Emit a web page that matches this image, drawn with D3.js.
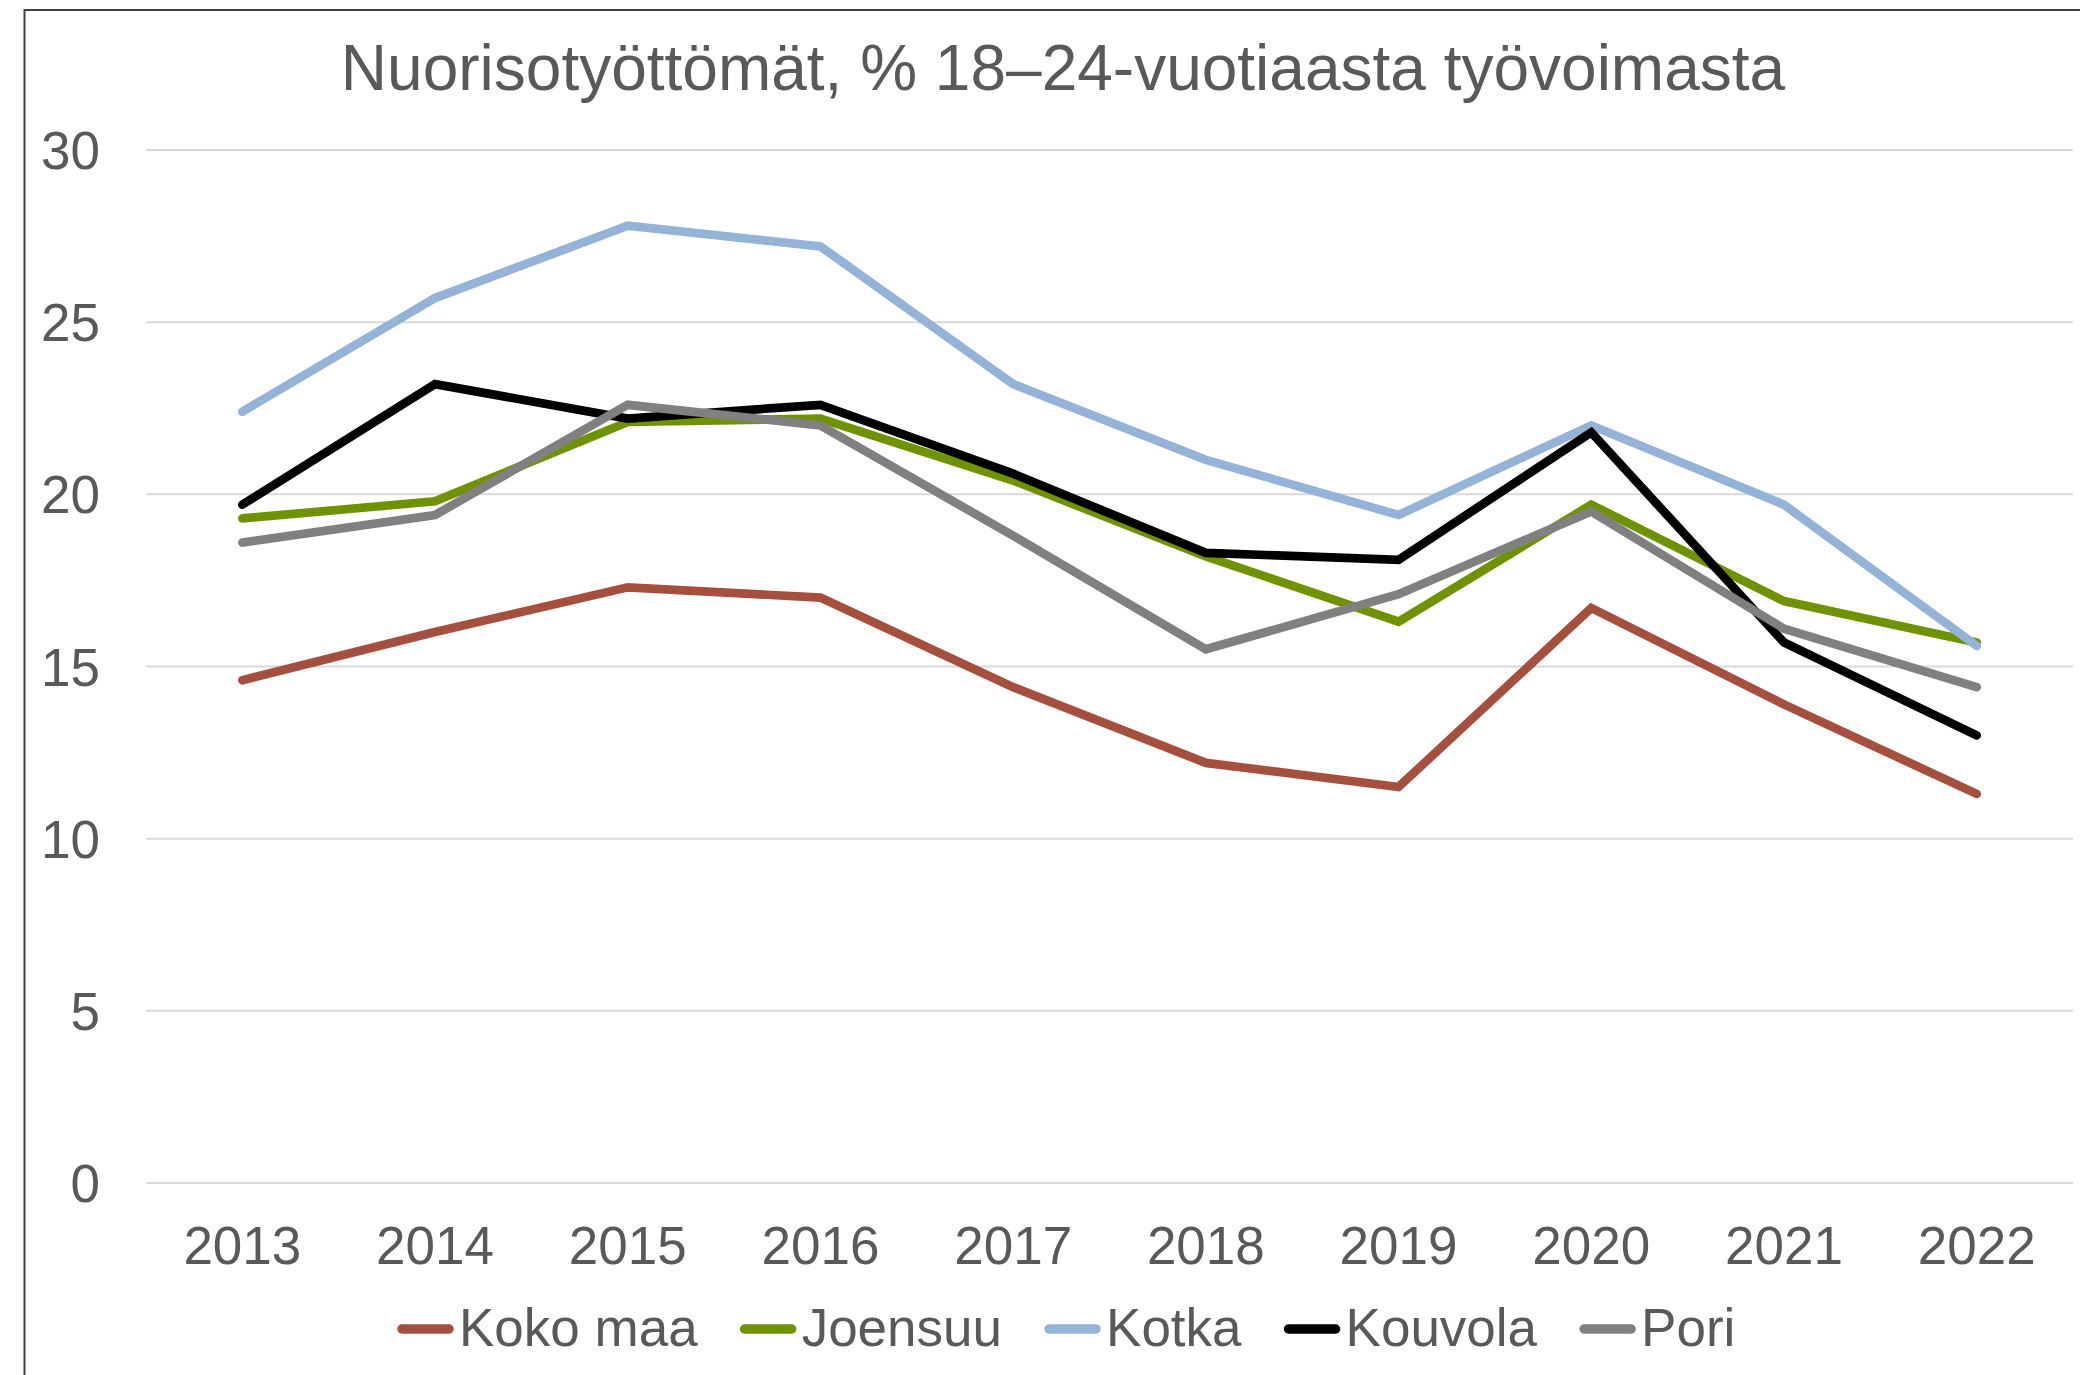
<!DOCTYPE html>
<html>
<head>
<meta charset="utf-8">
<script src="https://cdn.jsdelivr.net/npm/d3@7"></script>
<style>
  html, body { margin: 0; padding: 0; background: #fff; }
  svg { display: block; font-family: "Liberation Sans", Arial, sans-serif; }
</style>
</head>
<body>
<svg id="chart" width="2080" height="1375"></svg>
<script>
// chart data
var years = ["2013", "2014", "2015", "2016", "2017", "2018", "2019", "2020", "2021", "2022"];
var seriesNames = ["Koko maa", "Joensuu", "Kotka", "Kouvola", "Pori"];
var kokoMaa = [14.6, 16.0, 17.3, 17.0, 14.4, 12.2, 11.5, 16.7, 13.9, 11.3];
var joensuu = [19.3, 19.8, 22.1, 22.2, 20.4, 18.2, 16.3, 19.7, 16.9, 15.7];
var kotka   = [22.4, 25.7, 27.8, 27.2, 23.2, 21.0, 19.4, 22.0, 19.7, 15.6];
var kouvola = [19.7, 23.2, 22.2, 22.6, 20.6, 18.3, 18.1, 21.8, 15.7, 13.0];
var pori    = [18.6, 19.4, 22.6, 22.0, 18.8, 15.5, 17.1, 19.5, 16.1, 14.4];
var yTicks = [0, 5, 10, 15, 20, 25, 30];
var colors = ["#A5503F", "#6F9300", "#95B3D7", "#000000", "#808080"];
var titleText = "Nuorisotyöttömät, % 18–24-vuotiaasta työvoimasta";

(function(){
    var svg = d3.select("#chart");
    var textColor = "#595959";
    var plot = {left: 146, right: 2073, top: 150, bottom: 1183};

    var series = [kokoMaa, joensuu, kotka, kouvola, pori].map(function(vals, i) {
        return {name: seriesNames[i], color: colors[i], values: vals};
    });

    // outer frame (cut off at right and bottom in the original)
    svg.append("rect")
        .attr("x", 24.5).attr("y", 10)
        .attr("width", 2200).attr("height", 1500)
        .attr("fill", "none")
        .attr("stroke", "#404040")
        .attr("stroke-width", 2);

    var x = d3.scaleBand().domain(years).range([plot.left, plot.right]);
    var y = d3.scaleLinear().domain([0, 30]).range([plot.bottom, plot.top]);

    // gridlines
    svg.append("g").selectAll("line")
        .data(yTicks)
        .enter().append("line")
        .attr("x1", plot.left).attr("x2", plot.right)
        .attr("y1", function(d) { return y(d); })
        .attr("y2", function(d) { return y(d); })
        .attr("stroke", "#D9D9D9")
        .attr("stroke-width", 2);

    // y axis labels
    var yAxis = d3.axisLeft(y).tickValues(yTicks).tickSize(0).tickPadding(0);
    var yg = svg.append("g").attr("transform", "translate(100,0)").call(yAxis);
    yg.select(".domain").remove();
    yg.selectAll("text")
        .attr("fill", textColor)
        .style("font-size", "53px")
        .attr("dy", "0.35em");

    // x axis labels
    var xAxis = d3.axisBottom(x).tickSize(0).tickPadding(0);
    var xg = svg.append("g").attr("transform", "translate(0,1264)").call(xAxis);
    xg.select(".domain").remove();
    xg.selectAll("text")
        .attr("fill", textColor)
        .style("font-size", "53px")
        .attr("dy", 0);

    // lines
    var line = d3.line()
        .x(function(d, i) { return x(years[i]) + x.bandwidth() / 2; })
        .y(function(d) { return y(d); });

    svg.append("g").selectAll("path")
        .data(series)
        .enter().append("path")
        .attr("d", function(d) { return line(d.values); })
        .attr("fill", "none")
        .attr("stroke", function(d) { return d.color; })
        .attr("stroke-width", 8.7)
        .attr("stroke-linejoin", "miter")
        .attr("stroke-linecap", "round");

    // title
    svg.append("text")
        .attr("x", 1063).attr("y", 90)
        .attr("text-anchor", "middle")
        .attr("fill", textColor)
        .style("font-size", "64px")
        .text(titleText);

    // legend
    var legend = svg.append("g");
    var lx = 397;
    series.forEach(function(s) {
        legend.append("line")
            .attr("x1", lx + 5).attr("x2", lx + 52)
            .attr("y1", 1329).attr("y2", 1329)
            .attr("stroke", s.color)
            .attr("stroke-width", 9.5)
            .attr("stroke-linecap", "round");
        var t = legend.append("text")
            .attr("x", lx + 62).attr("y", 1346)
            .attr("fill", textColor)
            .style("font-size", "53px")
            .text(s.name);
        lx += 62 + t.node().getComputedTextLength() + 42;
    });
})();
</script>
</body>
</html>
